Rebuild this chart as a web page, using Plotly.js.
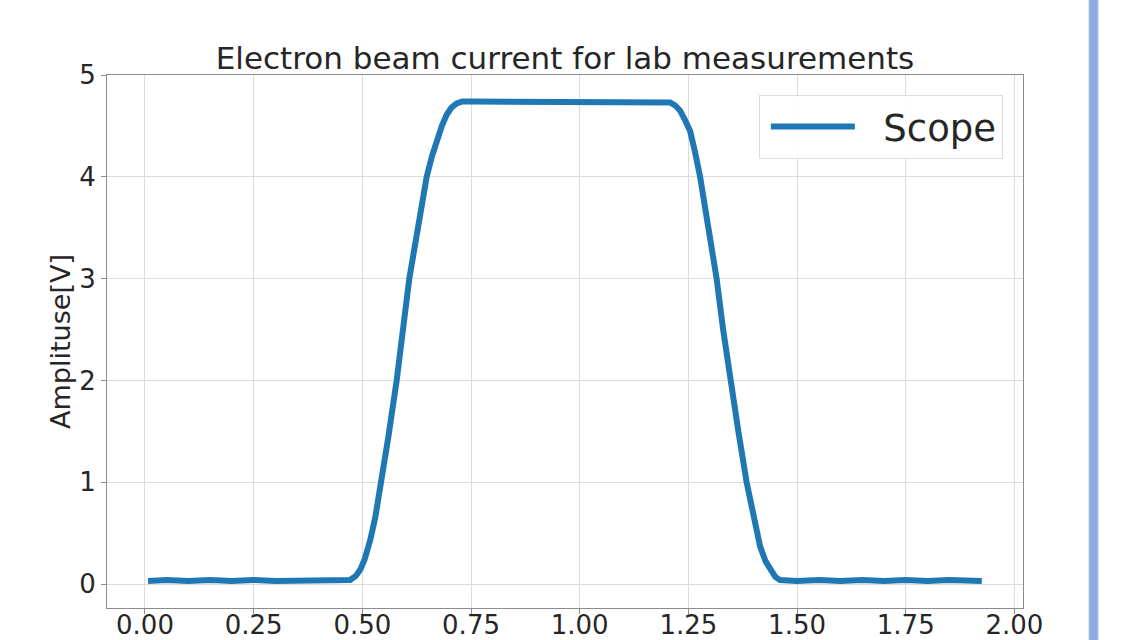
<!DOCTYPE html>
<html>
<head>
<meta charset="utf-8">
<script src="https://cdn.plot.ly/plotly-3.0.1.min.js"></script>
<style>html,body{margin:0;padding:0;background:#fff;}#chart{width:1121px;height:640px;}</style>
</head>
<body>
<div id="chart"></div>
<script>
// Time axis values
const timeValues = [
  0.007, 0.05, 0.10, 0.15, 0.20, 0.25, 0.30, 0.35, 0.40, 0.45, 0.472,
  0.485, 0.495, 0.505, 0.518, 0.530, 0.541, 0.544, 0.560, 0.579, 0.594, 0.608, 0.628, 0.648, 0.660, 0.671, 0.683, 0.694, 0.705, 0.717, 0.730,
  0.75, 0.80, 0.85, 0.90, 0.95, 1.00, 1.05, 1.10, 1.15, 1.19, 1.208,
  1.220, 1.231, 1.242, 1.254, 1.265, 1.277, 1.296, 1.315, 1.330, 1.346, 1.365, 1.384, 1.400, 1.415, 1.428, 1.438, 1.450, 1.461,
  1.50, 1.55, 1.60, 1.65, 1.70, 1.75, 1.80, 1.85, 1.90, 1.925
];
// Scope amplitude [V]
const scopeValues = [
  0.03, 0.04, 0.03, 0.04, 0.03, 0.04, 0.03, 0.03, 0.04, 0.03, 0.04,
  0.08, 0.14, 0.24, 0.43, 0.66, 0.92, 1.00, 1.45, 2.00, 2.50, 3.00, 3.50, 4.00, 4.20, 4.35, 4.50, 4.61, 4.68, 4.72, 4.74,
  4.74, 4.74, 4.74, 4.74, 4.73, 4.74, 4.73, 4.74, 4.74, 4.74, 4.73,
  4.70, 4.65, 4.56, 4.45, 4.25, 4.00, 3.50, 3.00, 2.50, 2.00, 1.50, 1.00, 0.66, 0.37, 0.22, 0.14, 0.07, 0.04,
  0.03, 0.04, 0.03, 0.04, 0.03, 0.04, 0.03, 0.04, 0.03, 0.03
];
const xTicks = [0, 0.25, 0.5, 0.75, 1.0, 1.25, 1.5, 1.75, 2.0];
const xTickLabels = ["0.00", "0.25", "0.50", "0.75", "1.00", "1.25", "1.50", "1.75", "2.00"];
const yTicks = [0, 1, 2, 3, 4, 5];
const yTickLabels = ["0", "1", "2", "3", "4", "5"];
const seriesName = "\u00a0\u00a0Scope";
const chartTitle = "Electron beam current for lab measurements";
const yTitle = "Amplituse[V]";

const font = "DejaVu Sans, sans-serif";
const textColor = "#262626";

const trace = {
  x: timeValues,
  y: scopeValues,
  type: "scatter",
  mode: "lines",
  name: seriesName,
  line: {color: "#1f77b4", width: 6}
};

const axisCommon = {
  showline: true, mirror: true, linecolor: "#8c8c8c", linewidth: 1,
  showgrid: true, gridcolor: "#dcdcdc", gridwidth: 1,
  ticks: "outside", ticklen: 5, tickcolor: "#8c8c8c",
  zeroline: false,
  tickfont: {family: font, size: 26, color: textColor}
};

const layout = {
  width: 1121, height: 640,
  margin: {l: 107, r: 98, t: 75, b: 32},
  paper_bgcolor: "#fff", plot_bgcolor: "#fff",
  font: {family: font, color: textColor},
  title: {
    text: chartTitle,
    font: {family: font, size: 31, color: textColor},
    x: 0.5, xref: "paper", xanchor: "center",
    y: 1 - 58 / 640, yref: "container", yanchor: "middle"
  },
  xaxis: Object.assign({}, axisCommon, {
    range: [-0.0874, 2.0198],
    tickmode: "array", tickvals: xTicks, ticktext: xTickLabels,
    ticklabelstandoff: -11
  }),
  yaxis: Object.assign({}, axisCommon, {
    range: [-0.235, 5.0],
    tickmode: "array", tickvals: yTicks, ticktext: yTickLabels,
    title: {text: yTitle, font: {family: font, size: 27, color: textColor}, standoff: 0}
  }),
  showlegend: true,
  legend: {
    x: 0.978, xanchor: "right", y: 0.9625, yanchor: "top",
    bgcolor: "rgba(255,255,255,0.9)", bordercolor: "#dddddd", borderwidth: 1,
    font: {family: font, size: 37, color: textColor},
    itemwidth: 84, indentation: 6
  },
  shapes: [{
    type: "rect", xref: "paper", yref: "paper",
    x0: (1089 - 107) / 916, x1: (1098 - 107) / 916,
    y0: -0.07, y1: 1.15,
    fillcolor: "#8faadc", line: {color: "#b4c7e7", width: 1}
  }]
};

Plotly.newPlot("chart", [trace], layout, {displayModeBar: false, staticPlot: true});
</script>
</body>
</html>
